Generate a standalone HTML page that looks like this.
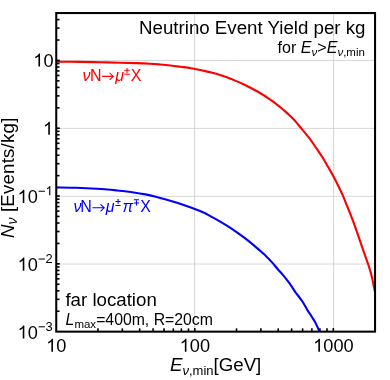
<!DOCTYPE html>
<html><head><meta charset="utf-8"><title>Neutrino Event Yield per kg</title>
<style>
html,body{margin:0;padding:0;background:#fff;}
svg{display:block;will-change:transform;font-family:"Liberation Sans",sans-serif;}
text{fill:#000;}
.i{font-style:italic;}
</style></head><body>
<svg width="390" height="380" viewBox="0 0 390 380">
<rect width="390" height="380" fill="#fff"/>
<defs><clipPath id="cp"><rect x="56.25" y="13.05" width="318.8" height="318.59999999999997"/></clipPath></defs>
<g stroke="#c8c8c8" stroke-width="0.75"><line x1="194.60" y1="13.05" x2="194.60" y2="331.65"/><line x1="333.60" y1="13.05" x2="333.60" y2="331.65"/><line x1="56.25" y1="60.45" x2="375.05" y2="60.45"/><line x1="56.25" y1="128.40" x2="375.05" y2="128.40"/><line x1="56.25" y1="196.30" x2="375.05" y2="196.30"/><line x1="56.25" y1="264.00" x2="375.05" y2="264.00"/></g>
<g clip-path="url(#cp)" fill="none" stroke-width="2.1" stroke-linejoin="round">
<path d="M56.30,61.70 C60.25,61.73 72.72,61.82 80.00,61.90 C87.28,61.98 93.33,62.07 100.00,62.20 C106.67,62.33 114.00,62.55 120.00,62.70 C126.00,62.85 131.00,62.93 136.00,63.10 C141.00,63.27 145.95,63.47 150.00,63.70 C154.05,63.93 156.88,64.20 160.30,64.50 C163.72,64.80 167.08,65.12 170.50,65.50 C173.92,65.88 177.38,66.35 180.80,66.80 C184.22,67.25 187.58,67.62 191.00,68.20 C194.42,68.78 197.88,69.58 201.30,70.30 C204.72,71.02 208.08,71.62 211.50,72.50 C214.92,73.38 218.72,74.62 221.80,75.60 C224.88,76.58 227.97,77.65 230.00,78.40 C232.03,79.15 231.85,79.17 234.00,80.10 C236.15,81.03 239.92,82.60 242.90,84.00 C245.88,85.40 248.90,86.92 251.90,88.50 C254.90,90.08 257.90,91.70 260.90,93.50 C263.90,95.30 267.55,97.70 269.90,99.30 C272.25,100.90 273.27,101.78 275.00,103.10 C276.73,104.42 278.55,105.78 280.30,107.20 C282.05,108.62 283.75,110.03 285.50,111.60 C287.25,113.17 289.03,114.85 290.80,116.60 C292.57,118.35 294.35,120.13 296.10,122.10 C297.85,124.07 299.55,126.28 301.30,128.40 C303.05,130.52 305.02,132.85 306.60,134.80 C308.18,136.75 309.18,137.87 310.80,140.10 C312.42,142.33 314.28,145.22 316.30,148.20 C318.32,151.18 320.92,154.85 322.90,158.00 C324.88,161.15 326.45,164.05 328.20,167.10 C329.95,170.15 331.65,173.02 333.40,176.30 C335.15,179.58 337.07,183.47 338.70,186.80 C340.33,190.13 341.92,193.38 343.20,196.30 C344.48,199.22 345.32,201.62 346.40,204.30 C347.48,206.98 348.60,209.63 349.70,212.40 C350.80,215.17 351.90,217.95 353.00,220.90 C354.10,223.85 355.20,226.97 356.30,230.10 C357.40,233.23 358.37,236.12 359.60,239.70 C360.83,243.28 362.50,248.17 363.70,251.60 C364.90,255.03 366.02,258.07 366.80,260.30 C367.58,262.53 367.73,262.90 368.40,265.00 C369.07,267.10 370.13,270.53 370.80,272.90 C371.47,275.27 371.93,277.10 372.40,279.20 C372.87,281.30 373.28,283.92 373.60,285.50 C373.92,287.08 374.07,287.62 374.30,288.70 C374.53,289.78 374.88,291.45 375.00,292.00" stroke="#ff0000"/>
<path d="M56.30,187.40 C59.67,187.47 69.72,187.58 76.50,187.80 C83.28,188.02 91.87,188.42 97.00,188.70 C102.13,188.98 103.88,189.20 107.30,189.50 C110.72,189.80 114.55,190.20 117.50,190.50 C120.45,190.80 122.03,190.93 125.00,191.30 C127.97,191.67 131.88,192.18 135.30,192.70 C138.72,193.22 142.08,193.73 145.50,194.40 C148.92,195.07 152.38,195.87 155.80,196.70 C159.22,197.53 162.58,198.45 166.00,199.40 C169.42,200.35 172.88,201.32 176.30,202.40 C179.72,203.48 183.08,204.67 186.50,205.90 C189.92,207.13 193.72,208.58 196.80,209.80 C199.88,211.02 202.97,212.27 205.00,213.20 C207.03,214.13 206.83,214.22 209.00,215.40 C211.17,216.58 215.02,218.60 218.00,220.30 C220.98,222.00 223.92,223.72 226.90,225.60 C229.88,227.48 232.90,229.50 235.90,231.60 C238.90,233.70 241.90,235.90 244.90,238.20 C247.90,240.50 250.92,242.92 253.90,245.40 C256.88,247.88 260.80,251.35 262.80,253.10 C264.80,254.85 264.40,254.40 265.90,255.90 C267.40,257.40 269.82,259.88 271.80,262.10 C273.78,264.32 275.82,266.92 277.80,269.20 C279.78,271.48 281.73,273.43 283.70,275.80 C285.67,278.17 287.63,280.63 289.60,283.40 C291.57,286.17 294.12,290.38 295.50,292.40 C296.88,294.42 296.72,293.93 297.90,295.50 C299.08,297.07 301.02,299.37 302.60,301.80 C304.18,304.23 305.82,307.53 307.40,310.10 C308.98,312.67 310.72,315.02 312.10,317.20 C313.48,319.38 314.60,321.10 315.70,323.20 C316.80,325.30 317.95,328.17 318.70,329.80 C319.45,331.43 319.95,332.47 320.20,333.00" stroke="#0000ff"/>
</g>
<g stroke="#000" stroke-width="1.6"><line x1="56.25" y1="311.24" x2="59.55" y2="311.24"/><line x1="56.25" y1="299.30" x2="59.55" y2="299.30"/><line x1="56.25" y1="290.83" x2="59.55" y2="290.83"/><line x1="56.25" y1="284.26" x2="59.55" y2="284.26"/><line x1="56.25" y1="278.89" x2="59.55" y2="278.89"/><line x1="56.25" y1="274.35" x2="59.55" y2="274.35"/><line x1="56.25" y1="270.42" x2="59.55" y2="270.42"/><line x1="56.25" y1="266.95" x2="59.55" y2="266.95"/><line x1="56.25" y1="263.85" x2="59.85" y2="263.85"/><line x1="56.25" y1="243.44" x2="59.55" y2="243.44"/><line x1="56.25" y1="231.50" x2="59.55" y2="231.50"/><line x1="56.25" y1="223.03" x2="59.55" y2="223.03"/><line x1="56.25" y1="216.46" x2="59.55" y2="216.46"/><line x1="56.25" y1="211.09" x2="59.55" y2="211.09"/><line x1="56.25" y1="206.55" x2="59.55" y2="206.55"/><line x1="56.25" y1="202.62" x2="59.55" y2="202.62"/><line x1="56.25" y1="199.15" x2="59.55" y2="199.15"/><line x1="56.25" y1="196.05" x2="59.85" y2="196.05"/><line x1="56.25" y1="175.64" x2="59.55" y2="175.64"/><line x1="56.25" y1="163.70" x2="59.55" y2="163.70"/><line x1="56.25" y1="155.22" x2="59.55" y2="155.22"/><line x1="56.25" y1="148.65" x2="59.55" y2="148.65"/><line x1="56.25" y1="143.29" x2="59.55" y2="143.29"/><line x1="56.25" y1="138.75" x2="59.55" y2="138.75"/><line x1="56.25" y1="134.81" x2="59.55" y2="134.81"/><line x1="56.25" y1="131.35" x2="59.55" y2="131.35"/><line x1="56.25" y1="128.24" x2="59.85" y2="128.24"/><line x1="56.25" y1="107.83" x2="59.55" y2="107.83"/><line x1="56.25" y1="95.89" x2="59.55" y2="95.89"/><line x1="56.25" y1="87.42" x2="59.55" y2="87.42"/><line x1="56.25" y1="80.85" x2="59.55" y2="80.85"/><line x1="56.25" y1="75.48" x2="59.55" y2="75.48"/><line x1="56.25" y1="70.94" x2="59.55" y2="70.94"/><line x1="56.25" y1="67.01" x2="59.55" y2="67.01"/><line x1="56.25" y1="63.54" x2="59.55" y2="63.54"/><line x1="56.25" y1="60.44" x2="59.85" y2="60.44"/><line x1="56.25" y1="40.03" x2="59.55" y2="40.03"/><line x1="56.25" y1="28.09" x2="59.55" y2="28.09"/><line x1="56.25" y1="19.62" x2="59.55" y2="19.62"/><line x1="56.25" y1="13.05" x2="59.55" y2="13.05"/><line x1="97.96" y1="331.65" x2="97.96" y2="328.35"/><line x1="122.35" y1="331.65" x2="122.35" y2="328.35"/><line x1="139.66" y1="331.65" x2="139.66" y2="328.35"/><line x1="153.09" y1="331.65" x2="153.09" y2="328.35"/><line x1="164.06" y1="331.65" x2="164.06" y2="328.35"/><line x1="173.34" y1="331.65" x2="173.34" y2="328.35"/><line x1="181.37" y1="331.65" x2="181.37" y2="328.35"/><line x1="188.46" y1="331.65" x2="188.46" y2="328.35"/><line x1="194.80" y1="331.65" x2="194.80" y2="328.05"/><line x1="236.50" y1="331.65" x2="236.50" y2="328.35"/><line x1="260.90" y1="331.65" x2="260.90" y2="328.35"/><line x1="278.21" y1="331.65" x2="278.21" y2="328.35"/><line x1="291.64" y1="331.65" x2="291.64" y2="328.35"/><line x1="302.61" y1="331.65" x2="302.61" y2="328.35"/><line x1="311.88" y1="331.65" x2="311.88" y2="328.35"/><line x1="319.92" y1="331.65" x2="319.92" y2="328.35"/><line x1="327.00" y1="331.65" x2="327.00" y2="328.35"/><line x1="333.34" y1="331.65" x2="333.34" y2="328.05"/></g>
<rect x="56.25" y="13.05" width="318.8" height="318.59999999999997" fill="none" stroke="#000" stroke-width="2.05"/>

<!-- tick labels -->
<g fill="#000"><path d="M763 0H583V1147Q518 1085 412.5 1023Q307 961 223 930V1104Q374 1175 487 1276Q600 1377 647 1472H763Z" transform="translate(33.26,66.60) scale(0.00889,-0.00889)"/><text x="43.38" y="66.60" font-size="18.20">0</text><path d="M763 0H583V1147Q518 1085 412.5 1023Q307 961 223 930V1104Q374 1175 487 1276Q600 1377 647 1472H763Z" transform="translate(43.08,134.80) scale(0.00889,-0.00889)"/><path d="M763 0H583V1147Q518 1085 412.5 1023Q307 961 223 930V1104Q374 1175 487 1276Q600 1377 647 1472H763Z" transform="translate(17.56,202.90) scale(0.00889,-0.00889)"/><text x="27.68" y="202.90" font-size="18.20">0</text><rect x="38.63" y="190.72" width="6.27" height="1.01"/><path d="M763 0H583V1147Q518 1085 412.5 1023Q307 961 223 930V1104Q374 1175 487 1276Q600 1377 647 1472H763Z" transform="translate(45.53,195.30) scale(0.00630,-0.00630)"/><path d="M763 0H583V1147Q518 1085 412.5 1023Q307 961 223 930V1104Q374 1175 487 1276Q600 1377 647 1472H763Z" transform="translate(17.56,270.70) scale(0.00889,-0.00889)"/><text x="27.68" y="270.70" font-size="18.20">0</text><rect x="38.63" y="258.52" width="6.27" height="1.01"/><text x="45.53" y="263.10" font-size="12.90">2</text><path d="M763 0H583V1147Q518 1085 412.5 1023Q307 961 223 930V1104Q374 1175 487 1276Q600 1377 647 1472H763Z" transform="translate(17.56,338.50) scale(0.00889,-0.00889)"/><text x="27.68" y="338.50" font-size="18.20">0</text><rect x="38.63" y="326.32" width="6.27" height="1.01"/><text x="45.53" y="330.90" font-size="12.90">3</text><path d="M763 0H583V1147Q518 1085 412.5 1023Q307 961 223 930V1104Q374 1175 487 1276Q600 1377 647 1472H763Z" transform="translate(46.18,351.80) scale(0.00889,-0.00889)"/><text x="56.30" y="351.80" font-size="18.20">0</text><path d="M763 0H583V1147Q518 1085 412.5 1023Q307 961 223 930V1104Q374 1175 487 1276Q600 1377 647 1472H763Z" transform="translate(179.67,351.80) scale(0.00889,-0.00889)"/><text x="189.79" y="351.80" font-size="18.20">0</text><text x="199.91" y="351.80" font-size="18.20">0</text><path d="M763 0H583V1147Q518 1085 412.5 1023Q307 961 223 930V1104Q374 1175 487 1276Q600 1377 647 1472H763Z" transform="translate(313.16,351.80) scale(0.00889,-0.00889)"/><text x="323.28" y="351.80" font-size="18.20">0</text><text x="333.40" y="351.80" font-size="18.20">0</text><text x="343.52" y="351.80" font-size="18.20">0</text></g>

<!-- title -->
<text x="365.5" y="34.3" font-size="18.7" text-anchor="end">Neutrino Event Yield per kg</text>
<text x="364.9" y="52.5" font-size="16.1" text-anchor="end">for <tspan class="i">E</tspan><tspan class="i" font-size="11.5" dy="3">ν</tspan><tspan dy="-3">&gt;</tspan><tspan class="i">E</tspan><tspan class="i" font-size="11.5" dy="3">ν</tspan><tspan font-size="11.5">,min</tspan></text>

<!-- curve labels -->
<g font-size="16" style="fill:#ff0000" fill="#ff0000">
<text x="82.6" y="80.9" class="i" style="fill:#ff0000">ν</text>
<text x="89.9" y="80.9" style="fill:#ff0000">N</text>
<path d="M102.1,76.4 H113 M109.6,72.9 L113.3,76.4 L109.6,79.9" fill="none" stroke="#ff0000" stroke-width="1.1"/>
<text x="115.2" y="80.9" class="i" style="fill:#ff0000">μ</text>
<path d="M124.2,70.3 H129.7 M127,67.9 V73.0 M124.2,74.3 H129.7" fill="none" stroke="#ff0000" stroke-width="1.05"/>
<text x="130.8" y="80.9" style="fill:#ff0000">X</text>
</g>
<g font-size="16">
<text x="73.4" y="212.3" class="i" style="fill:#0000ff">ν</text>
<text x="80.3" y="212.3" style="fill:#0000ff">N</text>
<path d="M92.4,207.8 H103.9 M100.5,204.3 L104.2,207.8 L100.5,211.3" fill="none" stroke="#0000ff" stroke-width="1.1"/>
<text x="105.7" y="212.3" class="i" style="fill:#0000ff">μ</text>
<path d="M115.5,201.4 H120.6 M118.1,199.0 V203.7 M115.5,205.4 H120.6" fill="none" stroke="#0000ff" stroke-width="1.05"/>
<text x="122.6" y="212.3" class="i" style="fill:#0000ff">π</text>
<path d="M133.9,199.8 H139.0 M133.9,202.9 H139.0 M136.45,200.6 V205.6" fill="none" stroke="#0000ff" stroke-width="1.05"/>
<text x="140.3" y="212.3" style="fill:#0000ff">X</text>
</g>

<!-- info -->
<text x="65.4" y="305.8" font-size="18.7">far location</text>
<text x="65.6" y="325" font-size="15.8"><tspan class="i">L</tspan><tspan font-size="11.5" dy="3">max</tspan><tspan dy="-3">=400m, R=20cm</tspan></text>

<!-- axis labels -->
<text x="170" y="371" font-size="18.7"><tspan class="i">E</tspan><tspan class="i" font-size="13" dy="4">ν</tspan><tspan font-size="13">,min</tspan><tspan dy="-4">[GeV]</tspan></text>
<text transform="translate(13.8,238) rotate(-90)" font-size="18.7"><tspan class="i">N</tspan><tspan class="i" font-size="14" dy="3.6">ν</tspan><tspan dy="-3.6" letter-spacing="0.2"> [Events/kg]</tspan></text>
</svg>
</body></html>
